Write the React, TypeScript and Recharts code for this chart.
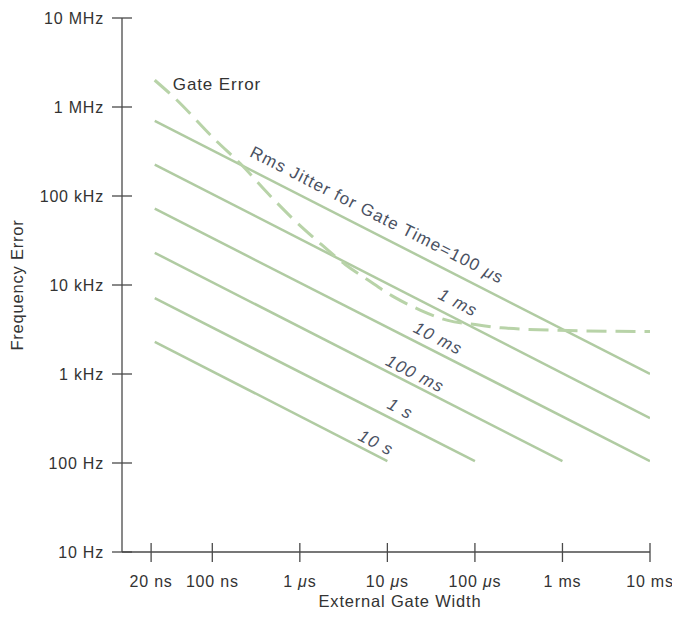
import { LineChart, Line, XAxis, YAxis, ReferenceDot, Label } from "recharts"

// gate widths (s) and frequency errors (Hz)
const xTicks = [2e-8, 1e-7, 1e-6, 1e-5, 1e-4, 1e-3, 1e-2]
const xTickLabels = ["20 ns", "100 ns", "1 μs", "10 μs", "100 μs", "1 ms", "10 ms"]
const yTicks = [10, 100, 1e3, 1e4, 1e5, 1e6, 1e7]
const yTickLabels = ["10 Hz", "100 Hz", "1 kHz", "10 kHz", "100 kHz", "1 MHz", "10 MHz"]

// rms jitter lines, one per gate time: start and end points
const gateTimes = ["100 μs", "1 ms", "10 ms", "100 ms", "1 s", "10 s"]
const jitterStartWidth = [2.2e-8, 2.2e-8, 2.2e-8, 2.2e-8, 2.2e-8, 2.2e-8]
const jitterStartFreq = [700000, 225000, 72000, 23000, 7100, 2300]
const jitterEndWidth = [1e-2, 1e-2, 1e-2, 1e-3, 1e-4, 1e-5]
const jitterEndFreq = [1000, 320, 105, 105, 105, 105]

// gate error curve (dashed)
const gateErrWidth = [2.2e-8, 3.6e-8, 1.1e-7, 2.1e-7, 4.2e-7, 8.4e-7, 1.6e-6, 3.3e-6, 5.9e-6, 1.2e-5, 2.4e-5, 4.9e-5, 1.1e-4, 2e-4, 9e-4, 1e-2]
const gateErrFreq = [2.0e6, 1.3e6, 4.2e5, 2.3e5, 1.1e5, 5.5e4, 3.1e4, 1.7e4, 1.15e4, 7.3e3, 5.2e3, 4.0e3, 3.55e3, 3.3e3, 3.1e3, 3.0e3]

// label anchor points along the lines
const lineLabels = ["Rms Jitter for Gate Time=100 μs", "1 ms", "10 ms", "100 ms", "1 s", "10 s"]
const lineLabelWidth = [7.6e-6, 6.4e-5, 3.8e-5, 2.07e-5, 1.4e-5, 7.4e-6]
const lineLabelFreq = [61000, 6300, 2500, 1000, 405, 168]
const lineLabelItalic = [false, true, true, true, true, true]

const jitterData = gateTimes.map((_, i) => [
  { w: jitterStartWidth[i], f: jitterStartFreq[i] },
  { w: jitterEndWidth[i], f: jitterEndFreq[i] },
])
const gateErrData = gateErrWidth.map((w, i) => ({ w, f: gateErrFreq[i] }))

const FONT = "'Liberation Sans', Arial, Helvetica, sans-serif"
const AXIS = "#4a4a4a"
const TEXT = "#333333"
const LINE = "#b0cba2"
const DASH = "#b8d3a8"
const SLOPE_ANGLE = 27

function withMu(text: string) {
  const i = text.indexOf("μ")
  if (i < 0) return text
  return (
    <>
      {text.slice(0, i)}
      <tspan fontStyle="italic">μ</tspan>
      {text.slice(i + 1)}
    </>
  )
}

const XTick = (props: any) => {
  const { x, y, index } = props
  return (
    <g>
      <line x1={x} x2={x} y1={y - 9} y2={y + 10} stroke={AXIS} strokeWidth={1.3} />
      <text x={x} y={y + 35} textAnchor="middle" fontSize={16} letterSpacing={0.8} fill={TEXT} fontFamily={FONT}>
        {withMu(xTickLabels[index])}
      </text>
    </g>
  )
}

const YTick = (props: any) => {
  const { x, y, index } = props
  return (
    <g>
      <line x1={x - 10} x2={x + 10} y1={y} y2={y} stroke={AXIS} strokeWidth={1.3} />
      <text x={x - 18} y={y + 6} textAnchor="end" fontSize={16} letterSpacing={0.8} fill={TEXT} fontFamily={FONT}>
        {yTickLabels[index]}
      </text>
    </g>
  )
}

export default function App() {
  return (
    <div style={{ width: 664, height: 604, background: "#fff" }}>
      <style>{".recharts-surface{overflow:visible}"}</style>
      <LineChart width={664} height={604} margin={{ top: 10, right: 22, left: 0, bottom: 0 }}>
        <XAxis
          dataKey="w"
          type="number"
          scale="log"
          domain={[9.3e-9, 1e-2]}
          allowDataOverflow
          ticks={xTicks}
          tick={<XTick />}
          tickSize={0}
          tickMargin={0}
          tickLine={false}
          height={60}
          axisLine={{ stroke: AXIS, strokeWidth: 1.3 }}
          interval={0}
        >
          <Label
            content={(p: any) => {
              const vb = p.viewBox
              return (
                <text x={vb.x + vb.width / 2 + 14} y={vb.y + 55} textAnchor="middle" fontSize={16.5} letterSpacing={0.8} fill={TEXT} fontFamily={FONT}>
                  External Gate Width
                </text>
              )
            }}
          />
        </XAxis>
        <YAxis
          dataKey="f"
          type="number"
          scale="log"
          domain={[10, 1e7]}
          allowDataOverflow
          ticks={yTicks}
          tick={<YTick />}
          tickSize={0}
          tickMargin={0}
          tickLine={false}
          width={114}
          axisLine={{ stroke: AXIS, strokeWidth: 1.3 }}
          interval={0}
        >
          <Label
            content={(p: any) => {
              const vb = p.viewBox
              const cx = vb.x + 15
              const cy = vb.y + vb.height / 2
              return (
                <text x={cx} y={cy} transform={`rotate(-90 ${cx} ${cy})`} textAnchor="middle" fontSize={16.5} letterSpacing={0.8} fill={TEXT} fontFamily={FONT}>
                  Frequency Error
                </text>
              )
            }}
          />
        </YAxis>
        {jitterData.map((d, i) => (
          <Line
            key={gateTimes[i]}
            data={d}
            dataKey="f"
            type="linear"
            stroke={LINE}
            strokeWidth={2.5}
            dot={false}
            activeDot={false}
            isAnimationActive={false}
          />
        ))}
        <Line
          data={gateErrData}
          dataKey="f"
          type="monotone"
          stroke={DASH}
          strokeWidth={3}
          strokeDasharray="20 9"
          dot={false}
          activeDot={false}
          isAnimationActive={false}
        />
        <ReferenceDot x={1.13e-7} y={1.8e6} r={0} fill="none" stroke="none">
          <Label
            content={(p: any) => {
              const vb = p.viewBox
              return (
                <text x={vb.x} y={vb.y + 6} textAnchor="middle" fontSize={17} letterSpacing={0.9} fill={TEXT} fontFamily={FONT}>
                  Gate Error
                </text>
              )
            }}
          />
        </ReferenceDot>
        {lineLabels.map((t, i) => (
          <ReferenceDot key={t} x={lineLabelWidth[i]} y={lineLabelFreq[i]} r={0} fill="none" stroke="none">
            <Label
              content={(p: any) => {
                const vb = p.viewBox
                return (
                  <text
                    x={vb.x}
                    y={vb.y}
                    transform={`rotate(${SLOPE_ANGLE} ${vb.x} ${vb.y})`}
                    textAnchor="middle"
                    dominantBaseline="central"
                    fontSize={17}
                    letterSpacing={1.2}
                    fill="#4a5162"
                    fontStyle={lineLabelItalic[i] ? "italic" : "normal"}
                    fontFamily={FONT}
                  >
                    {withMu(t)}
                  </text>
                )
              }}
            />
          </ReferenceDot>
        ))}
      </LineChart>
    </div>
  )
}
